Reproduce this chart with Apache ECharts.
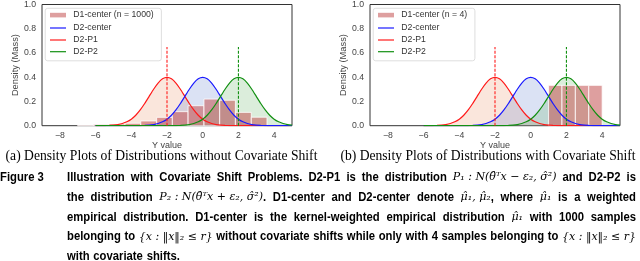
<!DOCTYPE html>
<html><head><meta charset="utf-8">
<script src="https://cdn.jsdelivr.net/npm/echarts@6/dist/echarts.min.js"></script>
<style>html,body{margin:0;padding:0;background:#fff}#c{width:640px;height:261px}</style>
</head><body><div id="c"></div>
<script>
// ---------- data ----------
const curveX = [-6,-5.75,-5.5,-5.25,-5,-4.75,-4.5,-4.25,-4,-3.75,-3.5,-3.25,-3,-2.75,-2.5,-2.25,-2,-1.75,-1.5,-1.25,-1,-0.75,-0.5,-0.25,0,0.25,0.5,0.75,1,1.25,1.5,1.75,2,2.25,2.5,2.75,3,3.25,3.5,3.75,4,4.25,4.5,4.75,5];
const p1Y = [.0001,.0004,.001,.002,.004,.009,.018,.032,.054,.086,.130,.183,.242,.301,.352,.387,.399,.387,.352,.301,.242,.183,.130,.086,.054,.032,.018,.009,.004,.002,.001,.0004,.0001,0,0,0,0,0,0,0,0,0,0,0,0];
const centerY = [0,0,0,0,0,0,0,0,.0001,.0004,.001,.002,.004,.009,.018,.032,.054,.086,.130,.183,.242,.301,.352,.387,.399,.387,.352,.301,.242,.183,.130,.086,.054,.032,.018,.009,.004,.002,.001,.0004,.0001,0,0,0,0];
const p2Y = [0,0,0,0,0,0,0,0,0,0,0,0,0,0,0,0,.0001,.0004,.001,.002,.004,.009,.018,.032,.054,.086,.130,.183,.242,.301,.352,.387,.399,.387,.352,.301,.242,.183,.130,.086,.054,.032,.018,.009,.004];
const histEdgesA = [-7.0,-6.12,-5.23,-4.35,-3.47,-2.58,-1.70,-0.82,0.07,0.95,1.83,2.72,3.60];
const histHeightsA = [0.006,0.011,0.014,0.02,0.039,0.069,0.116,0.165,0.22,0.21,0.11,0.07];
const histEdgesB = [1.0,1.75,2.5,3.25,4.0];
const histHeightsB = [0.333,0.333,0.333,0.333];
const markerX = [-2, 2];
const markerTop = 0.65;
const markerLabelY = 0.71;
const marksA = ['√','√'];
const marksB = ['×','√'];
const xTicks = [-8,-6,-4,-2,0,2,4];
const legendA = ['D1-center (n = 1000)','D2-center','D2-P1','D2-P2'];
const legendB = ['D1-center (n = 4)','D2-center','D2-P1','D2-P2'];
const subCaptions = ['(a) Density Plots of Distributions without Covariate Shift','(b) Density Plots of Distributions with Covariate Shift'];
const figLabel = 'Figure 3';
const captionLines = [
 'Illustration with Covariate Shift Problems. D2-P1 is the distribution $P₁ : N(θ̂ᵀx − ε₂, σ̂²)$ and D2-P2 is',
 'the distribution $P₂ : N(θ̂ᵀx + ε₂, σ̂²)$. D1-center and D2-center denote $μ̂₁, μ̂₂$, where $μ̂₁$ is a weighted',
 'empirical distribution. D1-center is the kernel-weighted empirical distribution $μ̂₁$ with 1000 samples',
 'belonging to ${x : ‖x‖₂ ≤ r}$ without covariate shifts while only with 4 samples belonging to ${x : ‖x‖₂ ≤ r}$',
 'with covariate shifts.'
];

// ---------- styling ----------
const RED='#ff1a1a', BLUE='#1a1aff', GREEN='#129012';
const HIST='rgba(195,80,80,0.55)';
const FILLS=['rgba(235,150,110,0.24)','rgba(90,125,205,0.22)','rgba(90,175,90,0.22)'];
const TICKFONT='Liberation Sans';
const grids=[{left:42,top:4.5,width:250,height:121.2},{left:370,top:4.5,width:250,height:121.2}];

const ctx=document.createElement('canvas').getContext('2d');
function measure(t,f){ctx.font=f;return ctx.measureText(t).width;}

const chart=echarts.init(document.getElementById('c'),null,{renderer:'canvas'});
const series=[];
const curves=[[p1Y,RED,FILLS[0]],[centerY,BLUE,FILLS[1]],[p2Y,GREEN,FILLS[2]]];
[0,1].forEach(g=>{
  curves.forEach(([ys,col,fill])=>{
    series.push({type:'line',xAxisIndex:g,yAxisIndex:g,data:curveX.map((x,i)=>[x,ys[i]]),symbol:'none',smooth:0.2,
      lineStyle:{width:0,opacity:0},areaStyle:{color:fill,opacity:1},z:1,silent:true});
  });
  const edges=g===0?histEdgesA:histEdgesB, hs=g===0?histHeightsA:histHeightsB;
  series.push({type:'custom',xAxisIndex:g,yAxisIndex:g,z:2,
    data:hs.map((h,i)=>[edges[i],edges[i+1],h]),encode:{x:[0,1],y:2},
    renderItem:(params,api)=>{const a=api.coord([api.value(0),api.value(2)]);const b=api.coord([api.value(1),0]);
      return {type:'rect',shape:{x:a[0],y:a[1],width:b[0]-a[0],height:b[1]-a[1]},style:{fill:HIST,stroke:'#fff',lineWidth:0.8}};}});
  curves.forEach(([ys,col])=>{
    series.push({type:'line',xAxisIndex:g,yAxisIndex:g,data:curveX.map((x,i)=>[x,ys[i]]),symbol:'none',smooth:0.2,
      lineStyle:{width:1.2,color:col},z:3,silent:true});
  });
  markerX.forEach((mx,k)=>{
    series.push({type:'line',xAxisIndex:g,yAxisIndex:g,data:[[mx,0],[mx,markerTop]],symbol:'none',
      lineStyle:{width:1.1,color:k===0?RED:GREEN,type:[3,1.5]},z:4,silent:true});
  });
  const marks=g===0?marksA:marksB;
  series.push({type:'scatter',xAxisIndex:g,yAxisIndex:g,symbolSize:1,itemStyle:{opacity:0},z:5,silent:true,
    data:markerX.map((mx,k)=>({value:[mx,markerLabelY],name:marks[k],label:{color:k===0?RED:GREEN}})),
    label:{show:true,position:'inside',formatter:p=>p.name,fontSize:9,fontFamily:TICKFONT}});
});

const elements=[];
// legends
[0,1].forEach(g=>{
  const names=g===0?legendA:legendB; const gl=grids[g].left;
  const lf='8.7px "Liberation Sans"';
  const tw=Math.max(...names.map(n=>measure(n,lf)));
  elements.push({type:'rect',x:gl+3.2,y:8.3,shape:{width:31.3+tw+4.5,height:52.5,r:2.5},style:{fill:'rgba(255,255,255,0.85)',stroke:'#d6d6d6',lineWidth:0.8},z:10});
  const ys=[15,28,40,51.7];
  elements.push({type:'rect',x:gl+8,y:12.8,shape:{width:16,height:4.6},style:{fill:HIST},z:11});
  [BLUE,RED,GREEN].forEach((c,i)=>elements.push({type:'line',shape:{x1:gl+8,y1:ys[i+1],x2:gl+24,y2:ys[i+1]},style:{stroke:c,lineWidth:1.2},z:11}));
  names.forEach((n,i)=>elements.push({type:'text',x:gl+31.3,y:ys[i],style:{text:n,font:lf,fill:'#333',textVerticalAlign:'middle'},z:11}));
});
// subcaptions
const baseSerif='"Liberation Serif", serif';
const scSize=12*312/measure(subCaptions[0],'12px '+baseSerif);
const scFont=scSize.toFixed(2)+'px '+baseSerif;
[[subCaptions[0],161.5],[subCaptions[1],488]].forEach(([t,cx])=>elements.push({type:'text',x:cx,y:156,style:{text:t,font:scFont,fill:'#000',textAlign:'center',textVerticalAlign:'middle'}}));
// caption
const sansFont='bold 12.5px "Liberation Sans", sans-serif';
const mathFont='italic 11px "DejaVu Serif", serif';
const lineYs=[177.5,197.3,217.1,236.9,256.7];
function parseLine(s){const groups=[];let cur=[];let inMath=false;let buf='';
  const flush=()=>{if(buf){cur.push({text:buf,math:inMath});buf='';}};
  for(const ch of s){ if(ch==='$'){flush();inMath=!inMath;continue;}
    if(ch===' '&&!inMath){flush();if(cur.length){groups.push(cur);cur=[];}continue;} buf+=ch;}
  flush();if(cur.length)groups.push(cur);return groups;}
const parsed=captionLines.map(parseLine);
const X0=67,X1=636,minGap=3.6;
// one common horizontal scale for the sans text so the tightest justified line fits
let SC=1;
parsed.forEach((groups,i)=>{ if(i===parsed.length-1) return;
  let sw=0,mw=0; groups.forEach(g=>g.forEach(r=>{ if(r.math) mw+=measure(r.text,mathFont); else sw+=measure(r.text,sansFont); }));
  const s=(X1-X0-minGap*(groups.length-1)-mw)/sw; if(s<SC) SC=s; });
const runW=r=>r.math?measure(r.text,mathFont):measure(r.text,sansFont)*SC;
elements.push({type:'text',x:0,y:lineYs[0],scaleX:SC,style:{text:figLabel,font:sansFont,fill:'#000',textVerticalAlign:'middle'}});
parsed.forEach((groups,li)=>{
  const justify=li<parsed.length-1;
  const sum=groups.reduce((a,g)=>a+g.reduce((b,r)=>b+runW(r),0),0);const n=groups.length;
  let gap=justify&&n>1?(X1-X0-sum)/(n-1):measure(' ',sansFont)*SC*1.2;
  let x=X0;
  groups.forEach(g=>{g.forEach(r=>{
    elements.push({type:'text',x:x,y:lineYs[li],scaleX:r.math?1:SC,style:{text:r.text,font:r.math?mathFont:sansFont,fill:'#000',textVerticalAlign:'middle'}});
    x+=runW(r);}); x+=gap;});
});

const axisText={color:'#444',fontSize:8.7,fontFamily:TICKFONT};
const option={
  animation:false,
  grid:grids.map(g=>Object.assign({show:true,borderColor:'#333',borderWidth:1,backgroundColor:'transparent'},g)),
  xAxis:[0,1].map(g=>({type:'value',gridIndex:g,min:-9,max:5,splitLine:{show:false},axisLine:{show:false},axisTick:{show:false},
    axisLabel:Object.assign({customValues:xTicks,formatter:v=>String(v).replace('-','−'),margin:5},axisText),
    name:'Y value',nameLocation:'middle',nameGap:14,nameTextStyle:{color:'#444',fontSize:9,fontFamily:TICKFONT}})),
  yAxis:[0,1].map(g=>({type:'value',gridIndex:g,min:0,max:1,interval:0.2,splitLine:{show:false},axisLine:{show:false},axisTick:{show:false},
    axisLabel:Object.assign({formatter:v=>v.toFixed(1),margin:6},axisText),
    name:'Density (Mass)',nameLocation:'middle',nameGap:17,nameTextStyle:{color:'#444',fontSize:9.3,fontFamily:TICKFONT}})),
  series:series,
  graphic:{elements:elements}
};
chart.setOption(option);
</script></body></html>
